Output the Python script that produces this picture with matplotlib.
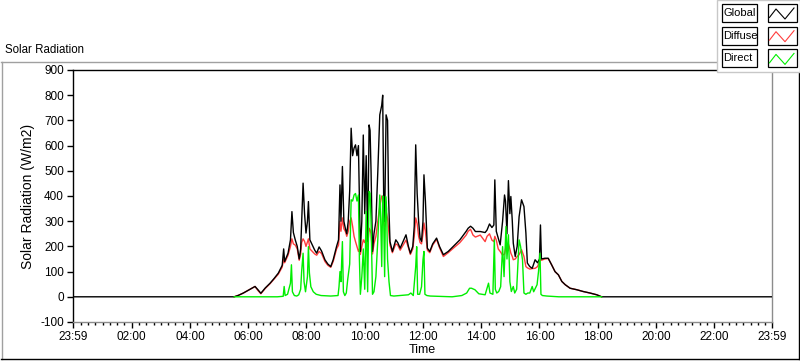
import matplotlib as mpl
mpl.use("Agg")
import matplotlib.pyplot as plt
from matplotlib.patches import Rectangle
from matplotlib.lines import Line2D

mpl.rcParams.update({
    "font.family": ["Liberation Sans", "DejaVu Sans"],
    "font.size": 8,
})

W, H = 800, 361

# ── Data ──────────────────────────────────────────────────────────────────────
# time in minutes after midnight (-1 = 23:59 of the previous day), values W/m2
global_min = [
    -1, 331, 340, 350, 362, 374, 380, 386, 395, 405, 413, 422, 430, 433, 435,
    442, 447, 450, 453, 457, 461, 465, 468, 470, 473, 476, 479, 482, 484, 487,
    492, 497, 501, 506, 511, 518, 524, 530, 535, 542, 546, 549, 551, 554, 557,
    560, 563, 566, 569, 572, 575, 578, 581, 584, 587, 589, 591, 594, 597, 600,
    603, 606, 609, 611, 613, 616, 619, 623, 627, 631, 635, 637, 639, 641, 644,
    647, 649, 652, 657, 664, 668, 673, 679, 685, 690, 694, 699, 702, 705, 708,
    711, 714, 717, 720, 722, 725, 729, 734, 740, 748, 754, 762, 772, 782, 796,
    809, 813, 818, 823, 828, 838, 848, 852, 857, 862, 866, 868, 871, 875, 879,
    884, 888, 890, 893, 896, 899, 901, 904, 906, 910, 914, 918, 923, 928, 932,
    935, 940, 945, 951, 956, 960, 962, 964, 971, 978, 985, 992, 999, 1006, 1013,
    1023, 1037, 1050, 1064, 1078, 1088, 1439,
]
global_wm2 = [
    0, 0, 6, 15, 28, 41, 28, 14, 35, 54, 72, 94, 125, 190, 140,
    173, 226, 338, 255, 225, 200, 150, 190, 292, 451, 330, 253, 300, 378, 226,
    205, 185, 173, 198, 182, 147, 130, 120, 147, 200, 226, 444, 300, 517, 300,
    272, 250, 300, 420, 669, 560, 590, 603, 560, 600, 400, 180, 300, 642, 330,
    560, 219, 682, 660, 500, 180, 250, 300, 500, 722, 760, 800, 400, 300, 722,
    700, 400, 219, 180, 226, 215, 193, 219, 246, 200, 173, 200, 280, 603, 410,
    300, 233, 220, 300, 484, 380, 193, 180, 210, 233, 200, 167, 180, 199, 226,
    260, 272, 280, 272, 259, 259, 255, 265, 289, 275, 285, 464, 260, 233, 206,
    300, 404, 380, 250, 461, 330, 398, 300, 213, 160, 200, 318, 385, 358, 253,
    134, 120, 113, 147, 135, 150, 285, 150, 153, 153, 127, 100, 87, 61, 48,
    34, 28, 21, 15, 8, 0, 0,
]

diffuse_min = [
    331, 340, 350, 362, 374, 380, 386, 395, 405, 413, 422, 430, 433, 435,
    442, 447, 450, 453, 457, 461, 465, 468, 470, 473, 476, 479, 484, 487, 492,
    497, 501, 506, 511, 518, 524, 530, 535, 542, 546, 549, 551, 554, 557, 560,
    563, 566, 569, 572, 575, 578, 581, 584, 587, 589, 591, 594, 597, 600, 603,
    606, 609, 611, 613, 616, 619, 623, 627, 631, 635, 637, 639, 641, 644, 647,
    649, 652, 657, 664, 668, 673, 679, 685, 690, 694, 699, 702, 705, 708, 711,
    714, 717, 720, 722, 725, 729, 734, 740, 748, 754, 762, 772, 782, 796, 809,
    813, 818, 823, 828, 838, 848, 852, 857, 862, 866, 868, 871, 875, 879, 884,
    888, 891, 893, 896, 899, 901, 904, 906, 910, 914, 918, 923, 928, 932, 935,
    940, 945, 951, 956, 960, 962, 964, 971, 978, 985, 992, 999, 1006, 1013, 1023,
    1037, 1050, 1064, 1078, 1088,
]
diffuse_wm2 = [
    0, 6, 15, 28, 41, 25, 12, 33, 52, 70, 90, 118, 150, 135,
    165, 200, 230, 210, 205, 190, 145, 170, 215, 230, 220, 200, 230, 190, 180,
    170, 165, 180, 172, 140, 125, 117, 140, 190, 205, 300, 260, 313, 270, 260,
    240, 260, 300, 313, 280, 240, 219, 200, 180, 190, 168, 200, 226, 215, 240,
    200, 272, 265, 250, 170, 210, 240, 300, 360, 400, 395, 320, 280, 340, 310,
    270, 205, 175, 210, 205, 185, 205, 225, 195, 168, 190, 240, 313, 290, 240,
    215, 210, 250, 293, 260, 185, 175, 205, 228, 195, 160, 175, 192, 215, 245,
    260, 268, 245, 237, 245, 219, 240, 250, 225, 219, 240, 225, 190, 180, 165,
    170, 200, 180, 209, 190, 173, 160, 147, 150, 160, 167, 187, 160, 120, 115,
    110, 112, 113, 120, 140, 147, 145, 150, 152, 127, 100, 87, 61, 48, 34,
    28, 21, 15, 8, 0,
]

direct_min = [
    331, 420, 432, 434, 436, 441, 447, 449, 451, 455, 460, 464, 468, 470, 473,
    475, 478, 482, 484, 486, 489, 494, 500, 510, 530, 545, 547, 549, 551, 554,
    556, 559, 562, 565, 569, 572, 575, 578, 581, 584, 587, 589, 591, 594, 597,
    600, 603, 606, 609, 611, 613, 616, 619, 623, 627, 631, 633, 635, 637, 639,
    641, 643, 645, 647, 650, 653, 660, 690, 695, 700, 705, 707, 709, 713, 717,
    720, 722, 724, 728, 735, 780, 800, 810, 816, 820, 827, 835, 848, 855, 858,
    864, 867, 869, 872, 876, 880, 884, 887, 891, 893, 896, 899, 902, 906, 909,
    913, 918, 921, 925, 928, 932, 936, 940, 945, 948, 955, 958, 961, 963, 966,
    975, 1000, 1088,
]
direct_wm2 = [
    0, 0, 2, 41, 5, 10, 54, 127, 20, 5, 3, 8, 30, 100, 173,
    60, 20, 80, 199, 95, 40, 20, 10, 5, 3, 5, 40, 100, 60, 219,
    20, 5, 15, 70, 130, 385, 380, 404, 410, 380, 404, 150, 10, 80, 190,
    30, 340, 20, 418, 410, 300, 10, 20, 80, 230, 404, 300, 120, 400, 310,
    80, 398, 350, 150, 60, 5, 3, 8, 15, 5, 120, 199, 10, 10, 40,
    147, 180, 10, 5, 3, 0, 5, 15, 34, 34, 28, 12, 8, 54, 15,
    10, 226, 30, 15, 21, 40, 199, 80, 279, 150, 246, 60, 21, 41, 15,
    30, 226, 200, 147, 15, 10, 15, 15, 41, 20, 48, 100, 173, 10, 5,
    3, 0, 0,
]

series_names = ["Global", "Diffuse", "Direct"]
series_colors = ["#000000", "#ff3c3c", "#00ee00"]

xtick_min = [-1, 120, 240, 360, 480, 600, 720, 840, 960, 1080, 1200, 1320, 1439]
xtick_labels = ["23:59", "02:00", "04:00", "06:00", "08:00", "10:00", "12:00",
                "14:00", "16:00", "18:00", "20:00", "22:00", "23:59"]
ytick_vals = [-100, 0, 100, 200, 300, 400, 500, 600, 700, 800, 900]


def fx(px):
    return px / W


def fy(py):
    return 1 - py / H


fig = plt.figure(figsize=(W / 100, H / 100), dpi=100)
fig.patch.set_facecolor("white")

# ── Outer panel frame (raised look) ───────────────────────────────────────────
fig.add_artist(Line2D([fx(1), fx(717)], [fy(62), fy(62)], color="#a0a0a0", lw=1))
fig.add_artist(Line2D([fx(1.5), fx(1.5)], [fy(62), fy(359)], color="#a0a0a0", lw=1))
fig.add_artist(Line2D([fx(1), fx(799)], [fy(359), fy(359)], color="#000000", lw=1))
fig.add_artist(Line2D([fx(799), fx(799)], [fy(72), fy(359)], color="#000000", lw=1))

fig.text(fx(5), fy(50), "Solar Radiation", ha="left", va="center", fontsize=8.3)

# ── Plot area ─────────────────────────────────────────────────────────────────
ax = fig.add_axes([fx(73), fy(322), (772 - 73) / W, (322 - 70) / H])
ax.plot(diffuse_min, diffuse_wm2, color=series_colors[1], lw=1.0, zorder=2)
ax.plot(global_min, global_wm2, color=series_colors[0], lw=1.0, zorder=3)
ax.plot(direct_min, direct_wm2, color=series_colors[2], lw=1.0, zorder=4)

ax.set_xlim(-1, 1439)
ax.set_ylim(-100, 900)

ax.set_xticks(xtick_min)
ax.set_xticklabels(xtick_labels)
ax.set_xticks([m for m in range(15, 1439, 15) if m % 120 != 0], minor=True)
ax.set_yticks(ytick_vals)
ax.set_yticklabels([str(v) for v in ytick_vals])

ax.tick_params(axis="both", which="major", direction="out", length=4.5, width=1,
               labelsize=8.5, pad=2)
ax.tick_params(axis="x", which="minor", direction="out", length=2.5, width=1)

for side in ("left", "top"):
    ax.spines[side].set_color("#000000")
    ax.spines[side].set_linewidth(1.0)
for side in ("right", "bottom"):
    ax.spines[side].set_color("#8c8c8c")
    ax.spines[side].set_linewidth(1.0)

ax.set_xlabel("Time", fontsize=9, labelpad=1)
ax.set_ylabel("Solar Radiation (W/m2)", fontsize=10, labelpad=4)

# ── Legend panel (top right) ──────────────────────────────────────────────────
fig.add_artist(Rectangle((fx(717), fy(72)), fx(800) - fx(717), fy(0) - fy(72),
                         transform=fig.transFigure, facecolor="white",
                         edgecolor="#c8c8c8", lw=1, zorder=5))
for i, (name, col) in enumerate(zip(series_names, series_colors)):
    top = 4 + i * 22.7
    bot = top + 18
    fig.add_artist(Rectangle((fx(722), fy(bot)), fx(757) - fx(722), fy(top) - fy(bot),
                             transform=fig.transFigure, facecolor="white",
                             edgecolor="#000000", lw=0.9, zorder=6))
    fig.text(fx(723.5), fy((top + bot) / 2), name, ha="left", va="center",
             fontsize=8, zorder=7)
    fig.add_artist(Rectangle((fx(768), fy(bot)), fx(797) - fx(768), fy(top) - fy(bot),
                             transform=fig.transFigure, facecolor="white",
                             edgecolor="#000000", lw=0.9, zorder=6))
    zx = [769.5, 776, 785, 794]
    zy = [top + 13.4, top + 5, top + 15, top + 4]
    fig.add_artist(Line2D([fx(p) for p in zx], [fy(p) for p in zy],
                          color=col, lw=0.8, zorder=7))

fig.savefig("out.png", dpi=100)
